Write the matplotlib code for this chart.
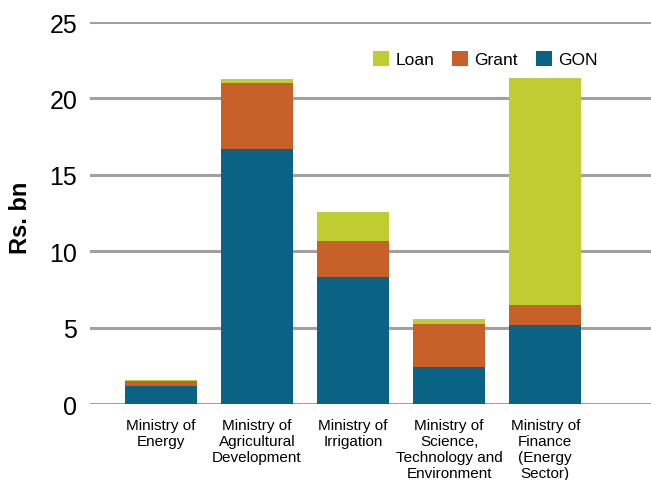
import matplotlib.pyplot as plt
import numpy as np

plt.rcParams["font.family"] = ["Liberation Sans", "DejaVu Sans"]

ministries = ["Ministry of\nEnergy",
              "Ministry of\nAgricultural\nDevelopment",
              "Ministry of\nIrrigation",
              "Ministry of\nScience,\nTechnology and\nEnvironment",
              "Ministry of\nFinance\n(Energy\nSector)"]
gon = [1.15, 16.7, 8.3, 2.42, 5.15]
grant = [0.35, 4.3, 2.35, 2.8, 1.3]
loan = [0.07, 0.3, 1.9, 0.33, 14.9]

fig = plt.figure(figsize=(6.51, 4.81), dpi=100)
ax = fig.add_axes([0.138, 0.158, 0.862, 0.794])

x = np.arange(len(ministries))
w = 0.75
b1 = ax.bar(x, gon, w, color="#0a6384", label="GON", zorder=3)
b2 = ax.bar(x, grant, w, bottom=gon, color="#c8602a", label="Grant", zorder=3)
bottom2 = np.array(gon) + np.array(grant)
b3 = ax.bar(x, loan, w, bottom=bottom2, color="#bfcd33", label="Loan", zorder=3)

ax.set_ylim(0, 25)
ax.set_xlim(-0.74, 5.1)
ax.set_yticks(range(0, 26, 5))
ax.yaxis.grid(True, color="#a0a0a0", linewidth=2.2, zorder=0)
ax.set_axisbelow(True)
for s in ax.spines.values():
    s.set_visible(False)

ax.set_xticks(x)
ax.set_xticklabels(ministries, fontsize=11, linespacing=1.17, va="top")
ax.tick_params(axis="x", length=0, pad=10)
ax.tick_params(axis="y", length=0, pad=9, labelsize=18)
ax.set_ylabel("Rs. bn", fontsize=17, fontweight="bold")
ax.yaxis.set_label_coords(-0.103, 0.49)

ax.legend([b3, b2, b1], ["Loan", "Grant", "GON"], ncol=3, loc="center right",
          bbox_to_anchor=(0.905, 0.903), frameon=False, fontsize=12.5,
          handlelength=0.92, handleheight=0.92, handletextpad=0.35,
          columnspacing=1.05, borderpad=0, borderaxespad=0)

fig.savefig("out.png", dpi=100)
